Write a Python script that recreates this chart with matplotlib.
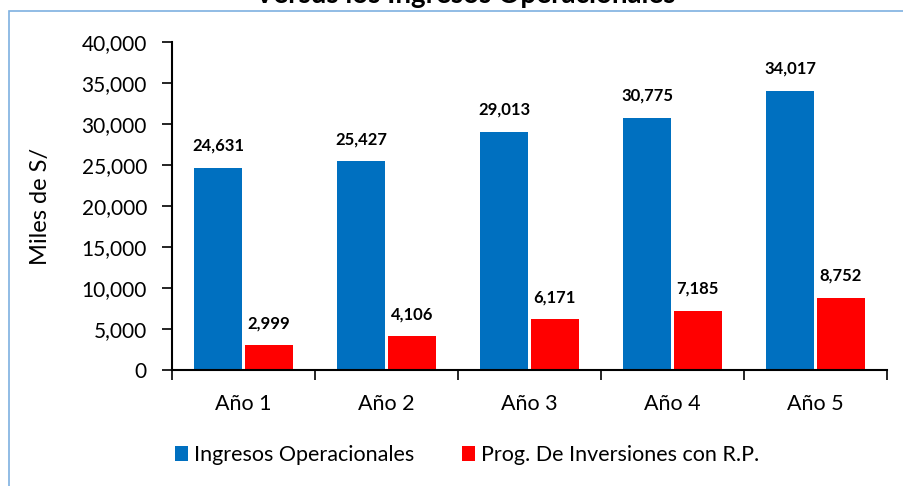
import numpy as np
import matplotlib.pyplot as plt
from matplotlib.patches import Rectangle

plt.rcParams["font.family"] = ["Lato", "DejaVu Sans"]

# -----------------------------------
# Data
# -----------------------------------

years = ["Año 1", "Año 2", "Año 3", "Año 4", "Año 5"]
ingresos = [24631, 25427, 29013, 30775, 34017]
inversiones = [2999, 4106, 6171, 7185, 8752]

blue = "#0070C0"
red = "#FF0000"

# -----------------------------------
# Plot
# -----------------------------------

W, H = 904, 486
fig = plt.figure(figsize=(W / 100, H / 100), dpi=100)
ax = fig.add_axes([172 / W, 1 - 370 / H, (887 - 172) / W, (370 - 42) / H])

# chart frame
fig.patches.append(Rectangle((9 / W, -0.1), 1.2, 1 - 11 / H + 0.1,
                             transform=fig.transFigure, fill=False,
                             edgecolor="#7EB0E0", linewidth=1.2))

fig.text(465 / W, 1 - 2.5 / H, "Versus los Ingresos Operacionales",
         ha="center", va="baseline", fontsize=20, fontweight="bold")

x = np.arange(len(years))
w = 0.335
gap = 0.01

b1 = ax.bar(x - w / 2 - gap, ingresos, w, color=blue,
            label="Ingresos Operacionales")
b2 = ax.bar(x + w / 2 + gap, inversiones, w, color=red,
            label="Prog. De Inversiones con R.P.")

for bars in (b1, b2):
    for rect in bars:
        v = rect.get_height()
        ax.annotate(f"{v:,.0f}", (rect.get_x() + rect.get_width() / 2, v),
                    xytext=(0, 16), textcoords="offset points",
                    ha="center", va="center", fontsize=12, fontweight="bold")

ax.set_xlim(-0.5, len(years) - 0.5)
ax.set_ylim(0, 40000)
ax.set_yticks(np.arange(0, 40001, 5000))
ax.yaxis.set_major_formatter(plt.FuncFormatter(lambda v, p: f"{v:,.0f}"))

ax.set_xticks(x)
ax.set_xticklabels(years)
ax.set_xticks(np.arange(-0.5, len(years), 1), minor=True)
ax.tick_params(axis="x", which="major", length=0, labelsize=15.5, pad=17)
ax.tick_params(axis="x", which="minor", length=7, width=1.2, direction="out")
ax.tick_params(axis="y", length=7, width=1.2, direction="out", labelsize=15, pad=11)

ax.set_ylabel("Miles de S/", fontsize=17)
ax.yaxis.set_label_coords((51 - 172) / 715, 0.5)

for loc, spine in ax.spines.items():
    if loc in ["left", "bottom"]:
        spine.set_color("black")
        spine.set_linewidth(1.5)
    else:
        spine.set_visible(False)

fig.legend(loc="center", bbox_to_anchor=(467 / W, 1 - 455 / H), ncol=2,
           frameon=False, fontsize=15.5, handlelength=0.6, handleheight=0.7,
           handletextpad=0.3, columnspacing=2.2)

plt.savefig("out.png", dpi=100)
plt.close()
